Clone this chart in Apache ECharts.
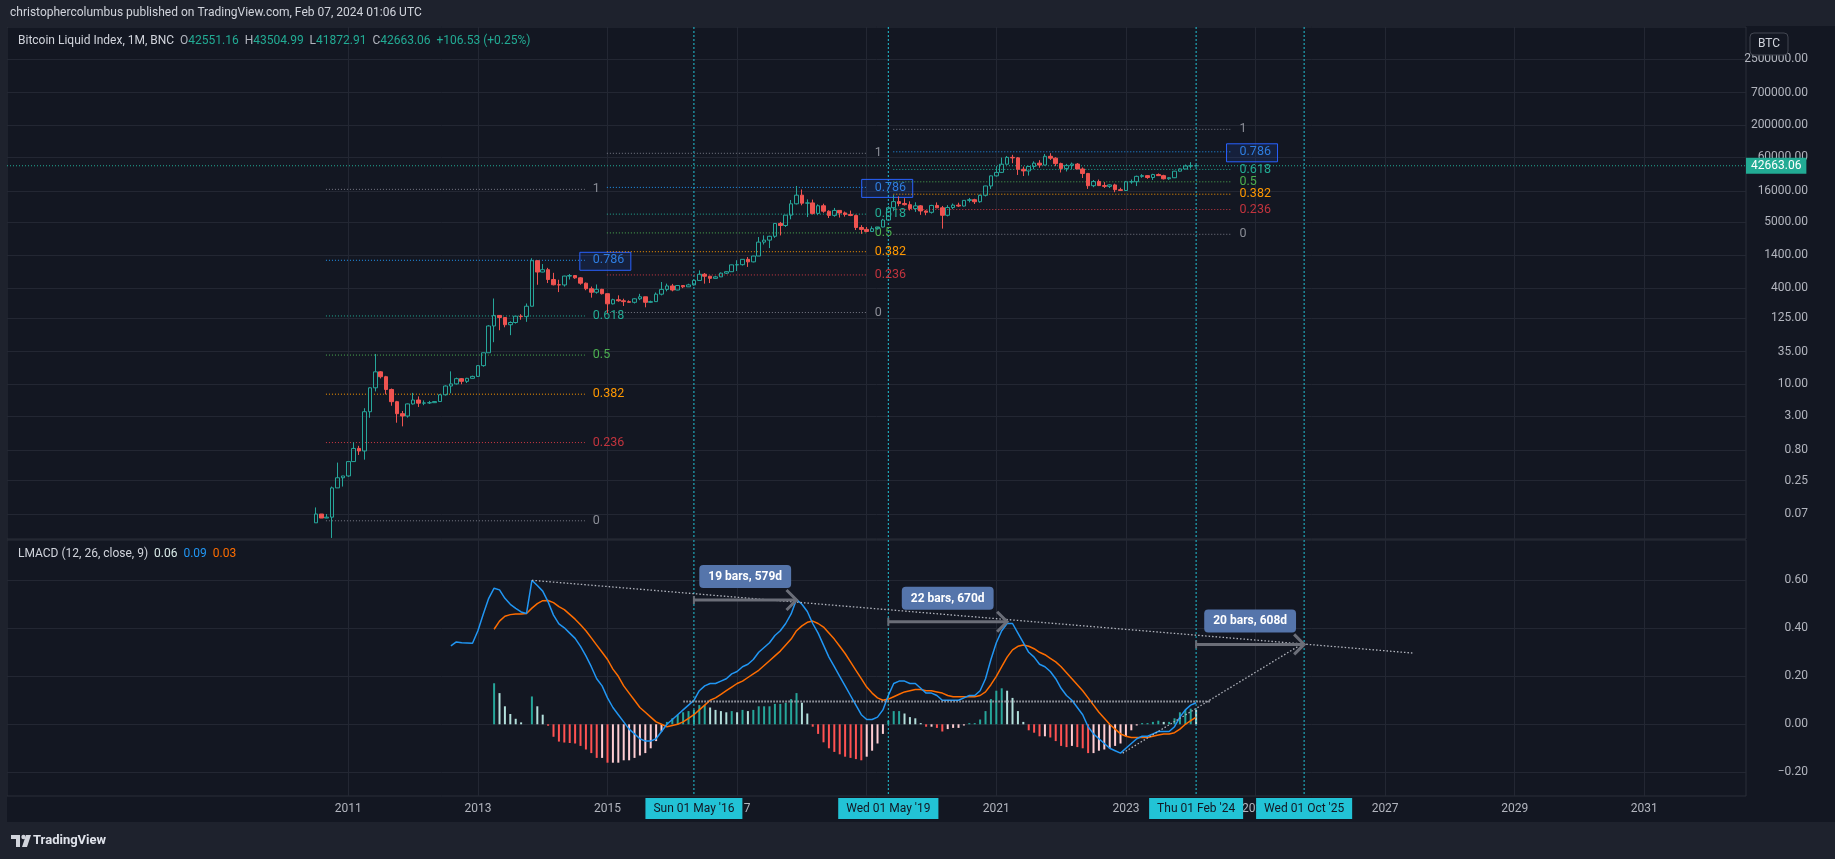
<!DOCTYPE html>
<html><head><meta charset="utf-8">
<script src="https://cdn.jsdelivr.net/npm/echarts@6/dist/echarts.min.js"></script>
<style>html,body{margin:0;padding:0;background:#131722;overflow:hidden}#c{width:1835px;height:859px}</style>
</head><body><div id="c"></div>
<script>
// ---------- DATA ----------
const firstMonth = 2010.5; // Jul 2010, monthly candles
const opens = [0.05,0.07,0.06,0.062,0.19,0.28,
0.30,0.52,0.86,0.78,3.50,8.74,16.1,13.35,8.2,5.14,3.25,2.97,
4.72,5.48,4.86,4.90,4.95,5.17,6.70,9.35,10.15,12.40,11.20,12.56,
13.51,20.41,33.38,93.03,139.23,128.8,97.5,106.2,135.35,133,198,1130,
732,800,550,450,447,627,640,586,478,387,338,378,
320,217,254,244,236,230,263,284,230,236,314,377,
430,368,437,416,448,531,673,624,575,609,701,742,
963,970,1190,1080,1350,2300,2480,2875,4700,4340,6460,9950,
13850,10200,10300,6900,9240,7500,6390,7730,7030,6630,6370,4020,
3740,3460,3850,4100,5350,8570,10820,10080,9630,8290,9200,7570,
7190,9350,8540,6420,8630,9450,9140,11350,11650,10780,13800,19700,
28990,33110,45240,58800,57700,37300,35000,41500,47100,43800,61300,57000,
46300,38500,43200,45500,37700,31800,19900,23300,20000,19400,20500,17100,
16550,23100,23150,28450,29250,27200,30470,29230,25940,26970,34650,37720,
42270,42551.16];
const highs = [0.09,0.07,0.07,0.2,0.5,0.30,
0.52,1.09,0.95,4.0,8.90,31.9,16.6,13.8,8.5,5.3,3.6,4.8,
7.2,6.3,5.4,5.3,5.2,6.8,9.6,16.4,12.9,12.7,12.8,13.9,
20.7,33.4,96,266,140,129,111,135,146,220,1240,1150,
995,860,710,545,635,680,650,600,490,420,455,385,
320,264,300,264,248,268,318,285,245,335,500,470,
465,445,440,468,553,780,705,630,630,720,755,975,
1150,1200,1300,1360,2790,2980,2930,4740,4980,6470,11500,19700,
17200,11800,11700,9750,9990,7770,8500,7770,7410,7680,6580,4400,
4100,4200,4110,5600,9050,13880,13200,12330,10950,10540,9510,7750,
9570,10500,9170,9460,10060,10380,11450,12470,12070,14100,19850,29300,
41950,58350,61780,64850,59600,41300,42600,50500,52900,67000,69000,59100,
48000,45800,48200,47400,40000,32400,24700,25200,22800,21000,21450,18400,
23900,25250,29200,31000,29850,31400,31800,30200,27500,35200,38400,44700,
48900,43504.99];
const lows = [0.05,0.06,0.06,0.028,0.19,0.20,
0.29,0.52,0.67,0.56,2.78,7.60,12.5,6.8,4.4,2.3,2.0,2.8,
4.6,4.2,4.5,4.7,4.9,5.2,6.5,7.1,9.9,10.0,10.5,12.5,
13.3,19.6,33.3,50,79,88.5,65.5,102,118,109,197,450,
725,480,440,340,420,550,565,450,365,275,320,310,
152,212,235,200,228,220,250,190,225,235,300,350,
350,365,395,415,436,530,470,480,570,605,680,740,
760,940,890,1060,1350,2100,1830,2700,2970,4100,5500,9700,
9400,6000,6600,6450,7050,5780,6080,5880,6100,6200,3650,3150,
3350,3380,3700,4050,5320,7500,9070,9320,7710,7300,6520,6430,
6850,8450,3850,6150,8100,8850,8980,10500,9880,10380,13200,17600,
28130,32300,45000,47000,30000,28800,29300,37300,39600,43300,53300,42000,
33000,34300,37200,37600,26700,17600,18800,19600,18200,18200,15500,16300,
16500,21400,19600,26900,25850,24800,28900,25300,24900,26600,34100,37600,
38500,41872.91];
const closes = [0.07,0.06,0.062,0.19,0.28,0.30,
0.52,0.86,0.78,3.50,8.74,16.1,13.35,8.2,5.14,3.25,2.97,4.72,
5.48,4.86,4.90,4.95,5.17,6.70,9.35,10.15,12.40,11.20,12.56,13.51,
20.41,33.38,93.03,139.23,128.8,97.5,106.2,135.35,133,198,1130,732,
800,550,450,447,627,640,586,478,387,338,378,320,
217,254,244,236,230,263,284,230,236,314,377,430,
368,437,416,448,531,673,624,575,609,701,742,963,
970,1190,1080,1350,2300,2480,2875,4700,4340,6460,9950,13850,
10200,10300,6900,9240,7500,6390,7730,7030,6630,6370,4020,3740,
3460,3850,4100,5350,8570,10820,10080,9630,8290,9200,7570,7190,
9350,8540,6420,8630,9450,9140,11350,11650,10780,13800,19700,28990,
33110,45240,58800,57700,37300,35000,41500,47100,43800,61300,57000,46300,
38500,43200,45500,37700,31800,19900,23300,20000,19400,20500,17100,16550,
23100,23150,28450,29250,27200,30470,29230,25940,26970,34650,37720,42270,
42580,42663.06];

const macdFirst = 25; // Aug 2012
const macdValues = [0.327,0.343,0.340,0.339,0.338,
0.39,0.46,0.525,0.567,0.56,0.525,0.50,0.483,0.468,0.462,0.60,0.578,
0.555,0.51,0.455,0.418,0.402,0.38,0.358,0.325,0.285,0.24,0.19,0.16,
0.11,0.07,0.04,0.01,-0.02,-0.04,-0.06,-0.07,-0.07,-0.06,-0.03,0.00,
0.02,0.04,0.06,0.08,0.10,0.14,0.16,0.17,0.17,0.18,0.19,0.21,
0.22,0.24,0.25,0.27,0.30,0.32,0.34,0.37,0.39,0.42,0.46,0.52,
0.50,0.47,0.42,0.38,0.33,0.28,0.24,0.20,0.16,0.12,0.08,0.04,
0.02,0.02,0.03,0.06,0.12,0.17,0.18,0.18,0.17,0.17,0.15,0.13,
0.13,0.12,0.10,0.10,0.10,0.10,0.11,0.12,0.12,0.14,0.19,0.27,
0.34,0.39,0.42,0.42,0.38,0.34,0.30,0.28,0.25,0.24,0.22,0.19,
0.15,0.12,0.10,0.07,0.04,-0.01,-0.04,-0.06,-0.08,-0.10,-0.11,-0.12,
-0.10,-0.08,-0.06,-0.05,-0.05,-0.04,-0.03,-0.03,-0.03,-0.01,0.03,0.06,
0.08,0.09];
const signalFirst = 33; // Apr 2013
const signalValues = [0.396,0.43,0.45,0.457,0.46,0.46,0.462,0.484,0.503,
0.515,0.516,0.507,0.49,0.478,0.458,0.438,0.415,0.39,0.36,0.33,0.30,
0.27,0.23,0.20,0.16,0.13,0.10,0.07,0.05,0.03,0.01,0.00,-0.01,
-0.005,0.00,0.01,0.025,0.04,0.06,0.08,0.10,0.11,0.125,0.14,0.155,
0.17,0.18,0.195,0.21,0.225,0.245,0.265,0.285,0.305,0.33,0.355,0.39,
0.41,0.425,0.43,0.42,0.405,0.38,0.355,0.325,0.295,0.26,0.225,0.19,
0.155,0.13,0.11,0.10,0.105,0.115,0.125,0.135,0.14,0.145,0.145,0.14,
0.14,0.135,0.13,0.12,0.115,0.115,0.115,0.115,0.115,0.12,0.135,0.165,
0.20,0.24,0.28,0.31,0.325,0.33,0.325,0.315,0.30,0.29,0.275,0.26,
0.24,0.215,0.19,0.165,0.14,0.11,0.08,0.05,0.025,0.00,-0.02,-0.04,
-0.05,-0.055,-0.055,-0.055,-0.055,-0.05,-0.045,-0.04,-0.04,-0.035,-0.02,0.00,
0.015,0.03];
const histValues = [0.171,0.13,0.075,0.043,0.023,0.008,0.0,0.116,0.075,
0.04,-0.006,-0.052,-0.072,-0.076,-0.078,-0.08,-0.09,-0.105,-0.12,-0.14,-0.14,
-0.16,-0.16,-0.16,-0.15,-0.15,-0.14,-0.13,-0.12,-0.10,-0.07,-0.03,0.01,
0.025,0.04,0.05,0.055,0.06,0.08,0.08,0.07,0.06,0.055,0.05,0.055,
0.05,0.06,0.055,0.06,0.075,0.075,0.075,0.085,0.085,0.09,0.105,0.13,
0.09,0.045,-0.01,-0.04,-0.075,-0.10,-0.115,-0.125,-0.135,-0.14,-0.145,-0.15,
-0.135,-0.11,-0.08,-0.04,0.015,0.055,0.055,0.045,0.03,0.025,0.005,-0.01,
-0.01,-0.015,-0.03,-0.02,-0.015,-0.015,-0.005,0.005,0.005,0.02,0.055,0.105,
0.14,0.15,0.14,0.11,0.055,0.01,-0.025,-0.035,-0.05,-0.05,-0.055,-0.07,
-0.09,-0.095,-0.09,-0.095,-0.10,-0.12,-0.12,-0.11,-0.105,-0.10,-0.09,-0.08,
-0.05,-0.025,-0.005,0.005,0.005,0.01,0.015,0.01,0.01,0.025,0.05,0.06,
0.065,0.06];

const priceTicks = [0.07,0.25,0.80,3,10,35,125,400,1400,5000,16000,60000,200000,700000,2500000];
const macdTicks = [-0.2,0,0.2,0.4,0.6];
const yearTicks = [2011,2013,2015,2017,2019,2021,2023,2025,2027,2029,2031];

const fibLevels = [1,0.786,0.618,0.5,0.382,0.236,0];
const fibLabels = ['1','0.786','0.618','0.5','0.382','0.236','0'];
const fibs = [
  {from:2010.655, to:2014.65, low:0.054, high:17300},
  {from:2014.99, to:2019.0, low:155.6, high:68700},
  {from:2019.41, to:2024.63, low:3100, high:171800}
];
const markerDates = [2016+4/12, 2019+4/12, 2024+1/12, 2025+9/12];
const markerLabels = ["Sun 01 May '16","Wed 01 May '19","Thu 01 Feb '24","Wed 01 Oct '25"];
const trendLines = [
  [[2013+10/12, 0.60],[2027.42, 0.297]],
  [[2022.95, -0.12],[2025.75, 0.34]]
];
const flatLine = [[2016.17, 0.095],[2024.3, 0.095]];
const dateRanges = [
  {from:2016+4/12, to:2017+11/12, level:0.518, label:'19 bars, 579d'},
  {from:2019+4/12, to:2021+2/12, level:0.4275, label:'22 bars, 670d'},
  {from:2024+1/12, to:2025+9/12, level:0.333, label:'20 bars, 608d'}
];

// ---------- CHART ----------
const L = Math.log10;
const monthX = i => firstMonth + i / 12;
const F = 'Roboto, "Liberation Sans", sans-serif';
const gridColor = '#232733';
const axisText = '#b2b5be';
const cyan = '#22c3d6';
const teal = '#22ab94';
const fibColors = ['#787b86','#2196f3','#22ab94','#4caf50','#ff9800','#d03a44','#787b86'];
const fibText = ['#8a8d96','#2e7de0','#22ab94','#4caf50','#ff9800','#c2343e','#8a8d96'];
const lastClose = closes[closes.length - 1];

const candleData = opens.map((o, i) => [monthX(i), L(o), L(closes[i]), L(lows[i]), L(highs[i])]);
const macdData = macdValues.map((v, k) => [monthX(k + macdFirst), v]);
const signalData = signalValues.map((v, k) => [monthX(k + signalFirst), v]);
const histData = histValues.map((v, k) => {
  const prev = k > 0 ? histValues[k - 1] : v;
  let c;
  if (v >= 0) c = v >= prev ? '#26a69a' : '#b2dfdb';
  else c = v < prev ? '#ff5252' : '#ffcdd2';
  return {value: [monthX(k + signalFirst), v], itemStyle: {color: c}};
});

function fmtPrice(v) {
  let best = priceTicks[0];
  priceTicks.forEach(t => { if (Math.abs(L(t) - v) < Math.abs(L(best) - v)) best = t; });
  return best.toFixed(2);
}

function renderPriceAnno(params, api) {
  const cs = params.coordSys;
  const ch = [];
  markerDates.forEach(d => {
    const x = api.coord([d, 0])[0];
    ch.push({type:'line', shape:{x1:x, y1:cs.y, x2:x, y2:cs.y + cs.height}, style:{stroke:cyan, lineWidth:1, lineDash:[2,2]}});
  });
  fibs.forEach(f => {
    const l0 = L(f.low), l1 = L(f.high);
    fibLevels.forEach((lv, k) => {
      const yv = l0 + lv * (l1 - l0);
      const a = api.coord([f.from, yv]), b = api.coord([f.to, yv]);
      ch.push({type:'line', shape:{x1:a[0], y1:a[1], x2:b[0], y2:b[1]}, style:{stroke:fibColors[k], lineWidth:1, lineDash:[1,2]}});
      if (lv === 0.786) {
        ch.push({type:'rect', shape:{x:b[0] - 5, y:b[1] - 8, width:51, height:18}, style:{fill:'rgba(41,98,255,0.12)', stroke:'#2962ff', lineWidth:1}});
      }
      ch.push({type:'text', x:b[0] + 8, y:b[1], style:{text:fibLabels[k], fill:fibText[k], font:'12.5px ' + F, align:'left', verticalAlign:'middle'}});
    });
  });
  const yp = api.coord([2020, L(lastClose)])[1];
  ch.push({type:'line', shape:{x1:cs.x, y1:yp, x2:cs.x + cs.width, y2:yp}, style:{stroke:teal, lineWidth:1, lineDash:[1,2]}});
  ch.push({type:'text', x:cs.x + cs.width, y:yp, style:{text:lastClose.toFixed(2), fill:'#ffffff', backgroundColor:teal, padding:[2,5,2,5], font:'12px ' + F, align:'left', verticalAlign:'middle'}});
  return {type:'group', children:ch};
}

function renderMacdAnno(params, api) {
  const cs = params.coordSys;
  const ch = [];
  const bottom = cs.y + cs.height;
  markerDates.forEach((d, k) => {
    const x = api.coord([d, 0])[0];
    ch.push({type:'line', shape:{x1:x, y1:cs.y, x2:x, y2:bottom}, style:{stroke:cyan, lineWidth:1, lineDash:[2,2]}});
    ch.push({type:'text', x:x, y:bottom + 2, style:{text:markerLabels[k], font:'12px ' + F, fill:'#131722', backgroundColor:cyan, padding:[5,8,4,8], align:'center', verticalAlign:'top'}});
  });
  trendLines.forEach(t => {
    const a = api.coord(t[0]), b = api.coord(t[1]);
    ch.push({type:'line', shape:{x1:a[0], y1:a[1], x2:b[0], y2:b[1]}, style:{stroke:'#b2b5be', lineWidth:1.3, lineDash:[1.5,2]}});
  });
  {
    const a = api.coord(flatLine[0]), b = api.coord(flatLine[1]);
    ch.push({type:'line', shape:{x1:a[0], y1:a[1], x2:b[0], y2:b[1]}, style:{stroke:'#a6a9b2', lineWidth:2, lineDash:[1.5,1.5]}});
  }
  const arrowColor = '#6b6e78';
  dateRanges.forEach(r => {
    const a = api.coord([r.from, r.level]), b = api.coord([r.to, r.level]);
    ch.push({type:'line', shape:{x1:a[0], y1:a[1], x2:b[0], y2:b[1]}, style:{stroke:arrowColor, lineWidth:3}});
    ch.push({type:'line', shape:{x1:a[0], y1:a[1] - 4, x2:a[0], y2:a[1] + 4}, style:{stroke:arrowColor, lineWidth:2}});
    ch.push({type:'polyline', shape:{points:[[b[0] - 10, a[1] - 10], [b[0], a[1]], [b[0] - 10, a[1] + 10]]}, style:{stroke:arrowColor, lineWidth:3, fill:'none'}});
    ch.push({type:'text', x:(a[0] + b[0]) / 2, y:a[1] - 12, style:{text:r.label, font:'bold 12px ' + F, fill:'#ffffff', backgroundColor:'#5575ab', padding:[6,9,5,9], borderRadius:4, align:'center', verticalAlign:'bottom'}});
  });
  return {type:'group', children:ch};
}

const xMin = 2005.733, xMax = 2032.569;
const chart = echarts.init(document.getElementById('c'), null, {renderer:'canvas'});
const baseX = (idx, showLabel) => ({
  gridIndex: idx, type: 'value', min: xMin, max: xMax,
  axisLine: {show: false},
  axisTick: {show: false, customValues: yearTicks},
  axisLabel: {show: showLabel, customValues: yearTicks, formatter: v => String(Math.round(v)), color: axisText, fontSize: 12, fontFamily: F, margin: 7},
  splitLine: {show: true, lineStyle: {color: gridColor, width: 1}}
});
chart.setOption({
  backgroundColor: '#131722',
  animation: false,
  grid: [
    {left: 7, top: 27, width: 1739, height: 512, show: true, borderColor: '#2a2e39', borderWidth: 1, outerBoundsMode: 'none', containLabel: false},
    {left: 7, top: 540, width: 1739, height: 256, show: true, borderColor: '#2a2e39', borderWidth: 1, outerBoundsMode: 'none', containLabel: false}
  ],
  xAxis: [baseX(0, false), baseX(1, true)],
  yAxis: [
    {gridIndex: 0, type: 'value', position: 'right', min: -1.570, max: 6.935,
     axisLine: {show: false},
     axisTick: {show: false, customValues: priceTicks.map(L)},
     axisLabel: {customValues: priceTicks.map(L), formatter: fmtPrice, color: axisText, fontSize: 12, fontFamily: F, align: 'right', margin: 62},
     splitLine: {show: true, lineStyle: {color: gridColor}}},
    {gridIndex: 1, type: 'value', position: 'right', min: -0.29875, max: 0.76792,
     axisLine: {show: false},
     axisTick: {show: false, customValues: macdTicks},
     axisLabel: {customValues: macdTicks, formatter: v => (v < 0 ? '\u2212' : '') + Math.abs(v).toFixed(2), color: axisText, fontSize: 12, fontFamily: F, align: 'right', margin: 62},
     splitLine: {show: true, lineStyle: {color: gridColor}}}
  ],
  series: [
    {type: 'custom', xAxisIndex: 0, yAxisIndex: 0, data: [[2020, 0]], renderItem: renderPriceAnno, clip: false, silent: true, z: 1},
    {type: 'candlestick', xAxisIndex: 0, yAxisIndex: 0, data: candleData, encode: {x: 0, y: [1, 2, 3, 4]}, barWidth: 4, silent: true, z: 3,
     itemStyle: {color: 'rgba(0,0,0,0)', color0: '#ef5350', borderColor: '#26a69a', borderColor0: '#ef5350', borderWidth: 1}},
    {type: 'bar', xAxisIndex: 1, yAxisIndex: 1, data: histData, barWidth: 2, silent: true, z: 2},
    {type: 'line', xAxisIndex: 1, yAxisIndex: 1, data: signalData, showSymbol: false, silent: true, z: 3, lineStyle: {color: '#ff6d00', width: 1.5}},
    {type: 'line', xAxisIndex: 1, yAxisIndex: 1, data: macdData, showSymbol: false, silent: true, z: 4, lineStyle: {color: '#2196f3', width: 1.5}},
    {type: 'custom', xAxisIndex: 1, yAxisIndex: 1, data: [[2020, 0]], renderItem: renderMacdAnno, clip: false, silent: true, z: 10}
  ],
  graphic: [
    {type: 'rect', shape: {x: 0, y: 0, width: 1835, height: 26}, style: {fill: '#1e222d'}, z: 20},
    {type: 'text', x: 10, y: 13, style: {text: 'christophercolumbus published on TradingView.com, Feb 07, 2024 01:06 UTC', fill: '#d1d4dc', font: '12px ' + F, verticalAlign: 'middle'}, z: 21},
    {type: 'rect', shape: {x: 0, y: 26, width: 7, height: 796}, style: {fill: '#1e222d'}, z: 20},
    {type: 'text', x: 18, y: 41, z: 21, style: {
      text: '{t|Bitcoin Liquid Index, 1M, BNC}  {k|O}{v|42551.16}  {k|H}{v|43504.99}  {k|L}{v|41872.91}  {k|C}{v|42663.06}  {v|+106.53 (+0.25%)}',
      font: '12px ' + F, verticalAlign: 'middle',
      rich: {t: {fill: '#d1d4dc', font: '12px ' + F}, k: {fill: '#b2b5be', font: '12px ' + F}, v: {fill: teal, font: '12px ' + F}}}},
    {type: 'text', x: 18, y: 554, z: 21, style: {
      text: '{t|LMACD (12, 26, close, 9)}  {h|0.06}  {m|0.09}  {s|0.03}',
      font: '12px ' + F, verticalAlign: 'middle',
      rich: {t: {fill: '#d1d4dc', font: '12px ' + F}, h: {fill: '#d9ebe8', font: '12px ' + F}, m: {fill: '#2196f3', font: '12px ' + F}, s: {fill: '#ff6d00', font: '12px ' + F}}}},
    {type: 'rect', shape: {x: 1750, y: 33, width: 38, height: 22, r: 4}, style: {fill: '#131722', stroke: '#434651', lineWidth: 1}, z: 21},
    {type: 'text', x: 1769, y: 44, style: {text: 'BTC', fill: '#d1d4dc', font: '12px ' + F, align: 'center', verticalAlign: 'middle'}, z: 22},
    {type: 'rect', shape: {x: 0, y: 822, width: 1835, height: 37}, style: {fill: '#1e222d'}, z: 20},
    {type: 'rect', shape: {x: 11, y: 835, width: 9, height: 4}, style: {fill: '#d1d4dc'}, z: 21},
    {type: 'rect', shape: {x: 16, y: 835, width: 4, height: 12}, style: {fill: '#d1d4dc'}, z: 21},
    {type: 'circle', shape: {cx: 23.5, cy: 837, r: 2.2}, style: {fill: '#d1d4dc'}, z: 21},
    {type: 'polygon', shape: {points: [[26, 835], [31, 835], [27, 847], [22, 847]]}, style: {fill: '#d1d4dc'}, z: 21},
    {type: 'text', x: 33, y: 841, style: {text: 'TradingView', fill: '#e0e3eb', font: 'bold 13px ' + F, verticalAlign: 'middle'}, z: 21}
  ]
});
</script></body></html>
